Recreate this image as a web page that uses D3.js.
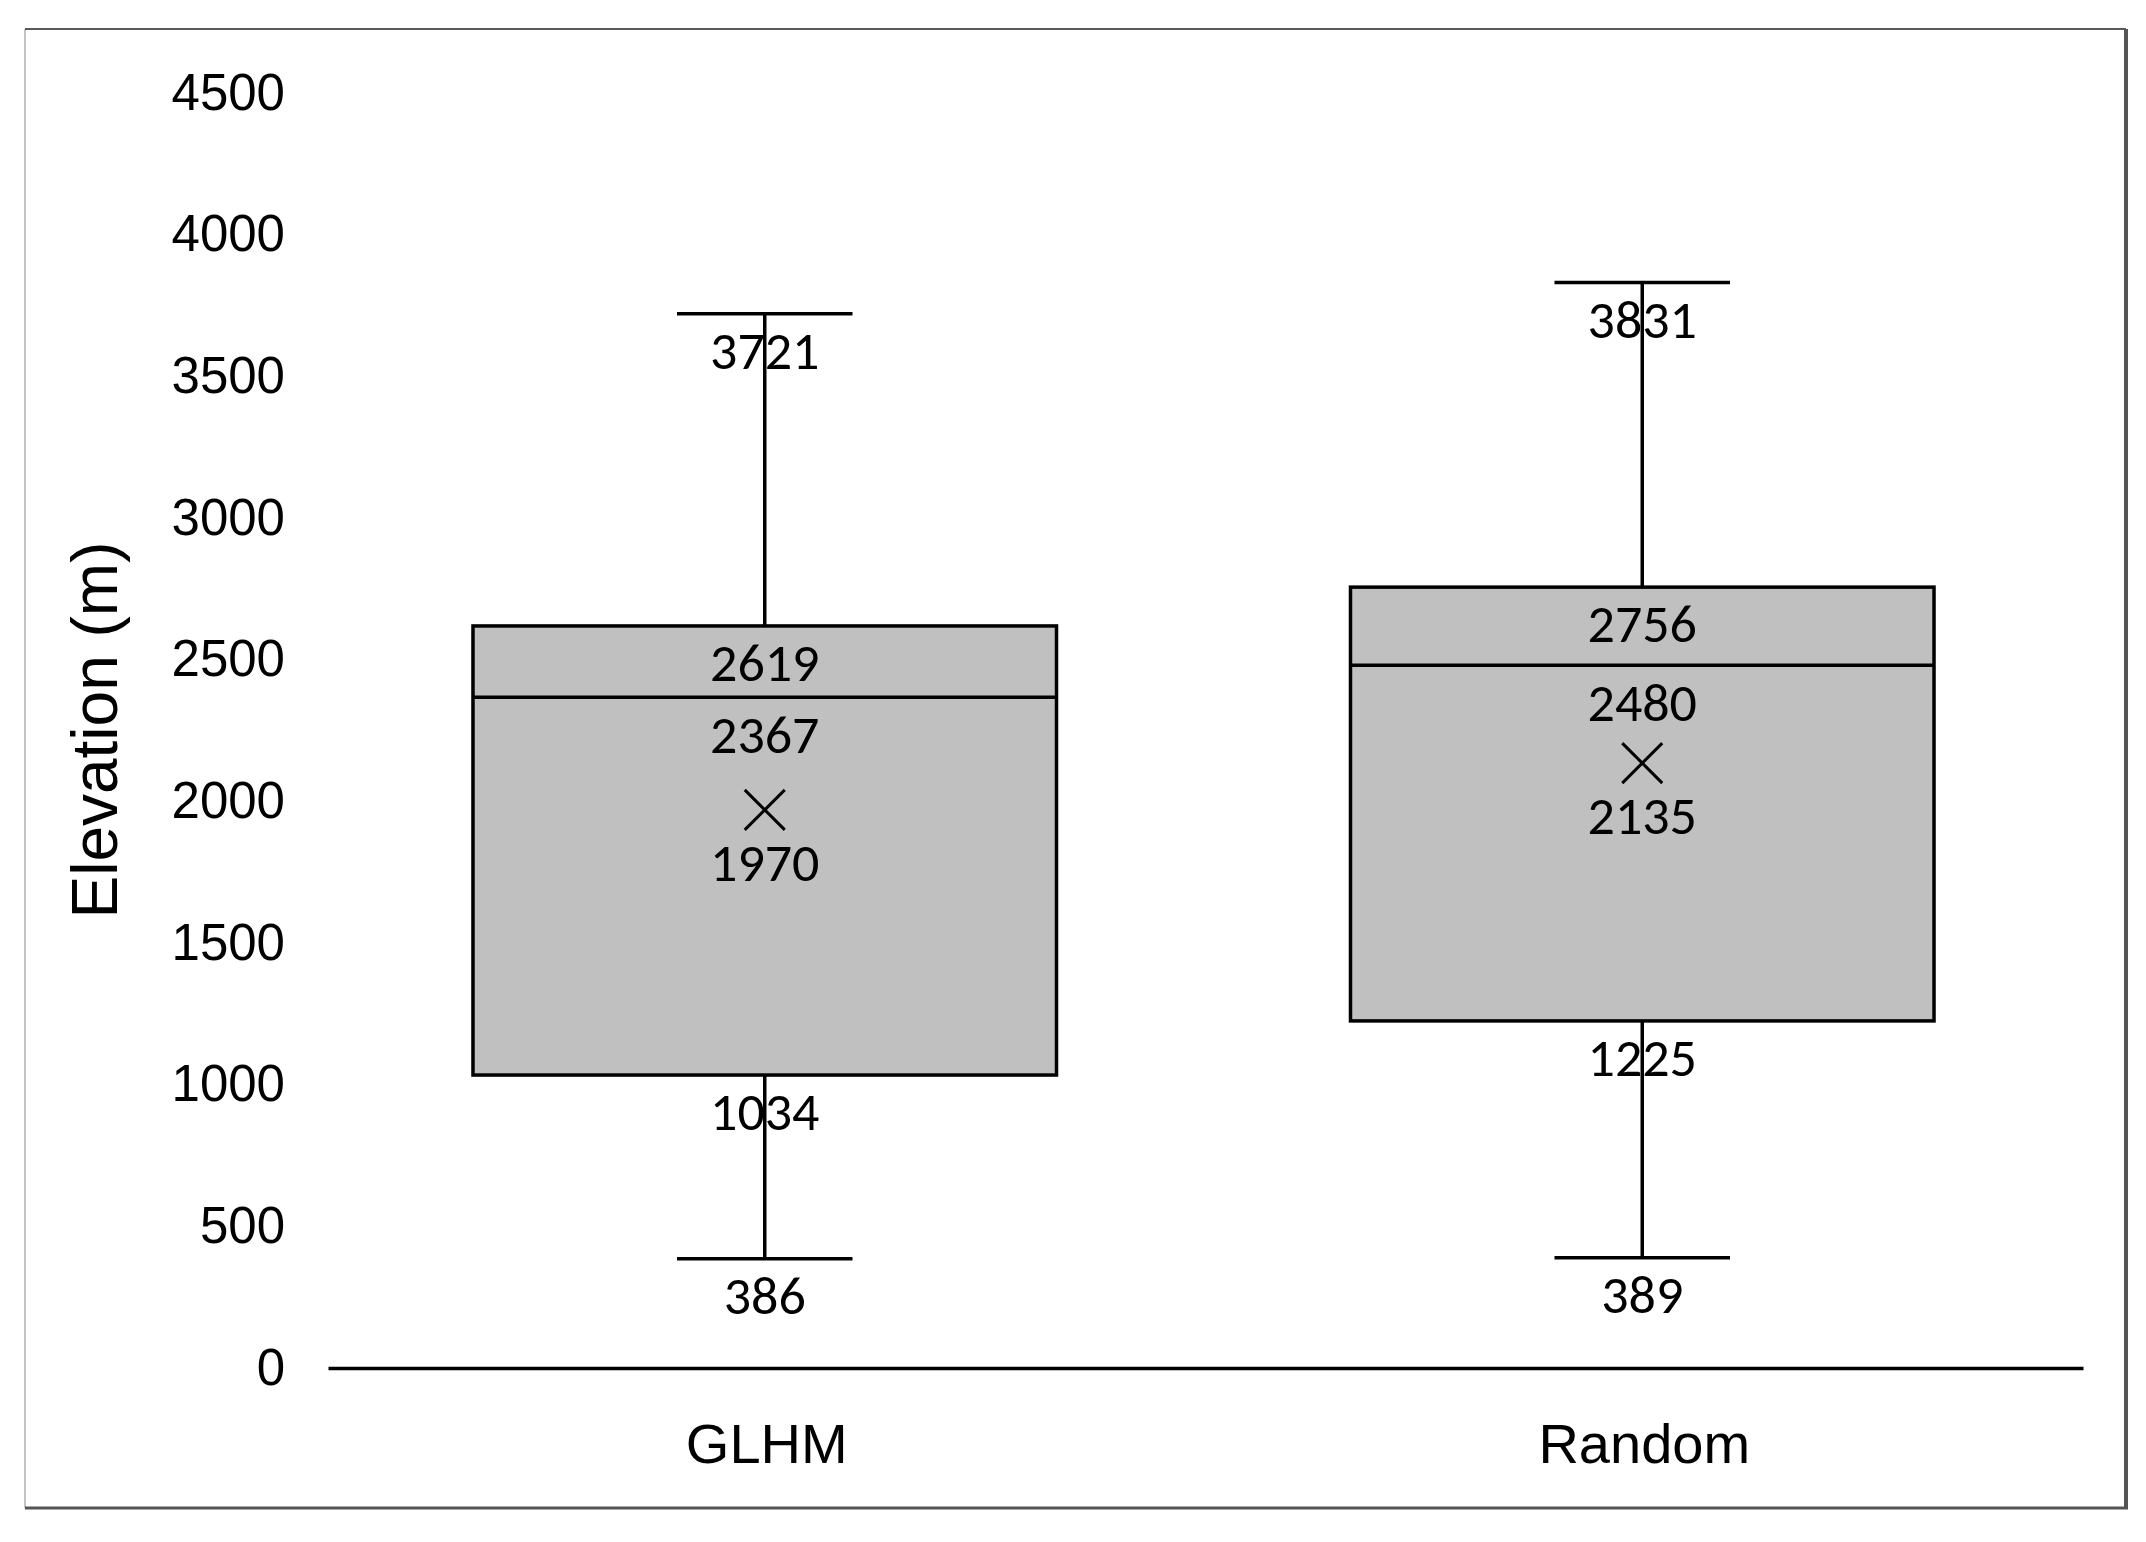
<!DOCTYPE html>
<html>
<head>
<meta charset="utf-8">
<script src="https://cdn.jsdelivr.net/npm/d3@7"></script>
<style>
  body { margin: 0; background: #fff; }
  svg { display: block; }
  .axis text { font-family: "Liberation Sans", Arial, sans-serif; fill: #000; }
  .val { font-family: Carlito, Lato, "Open Sans", sans-serif; font-size: 54px; fill: #000; }
</style>
</head>
<body>
<div id="chart"></div>
<script>
// data
const groups = ["GLHM", "Random"];
const minVals = [386, 389];
const q1Vals = [1034, 1225];
const medianVals = [2367, 2480];
const q3Vals = [2619, 2756];
const maxVals = [3721, 3831];
const meanVals = [1970, 2135];
const yTicks = [0, 500, 1000, 1500, 2000, 2500, 3000, 3500, 4000, 4500];

const W = 2146, H = 1542;

const svg = d3.select("#chart")
  .append("svg")
  .attr("width", W)
  .attr("height", H);

// frame round the whole figure
const frame = svg.append("g").attr("class", "frame");
frame.append("line").attr("x1", 25).attr("y1", 29).attr("x2", 25).attr("y2", 1508)
  .attr("stroke", "#c4c4c4").attr("stroke-width", 2);
frame.append("line").attr("x1", 25).attr("y1", 29).attr("x2", 2126).attr("y2", 29)
  .attr("stroke", "#5a5a5a").attr("stroke-width", 2);
frame.append("line").attr("x1", 2126).attr("y1", 29).attr("x2", 2126).attr("y2", 1509)
  .attr("stroke", "#555").attr("stroke-width", 4);
frame.append("line").attr("x1", 25).attr("y1", 1508).attr("x2", 2128).attr("y2", 1508)
  .attr("stroke", "#555").attr("stroke-width", 3);

const x = d3.scaleBand().domain(groups).range([328, 2083]).padding(0);
const y = d3.scaleLinear().domain([0, 4500]).range([1368, 93]);

const boxW = x.bandwidth() * 0.665;
const capW = x.bandwidth() * 0.2;
const lw = 3.5;

// y axis, labels only
const yAxis = svg.append("g")
  .attr("class", "axis y")
  .attr("transform", "translate(328,0)")
  .call(d3.axisLeft(y).tickValues(yTicks).tickSize(0).tickPadding(43).tickFormat(d3.format("d")));
yAxis.select(".domain").remove();
yAxis.selectAll("text").attr("font-size", 51);

// x axis, the domain line is the zero line
const xAxis = svg.append("g")
  .attr("class", "axis x")
  .attr("transform", "translate(0,1368)")
  .call(d3.axisBottom(x).tickSize(0).tickPadding(55));
xAxis.select(".domain").attr("stroke", "#000").attr("stroke-width", lw);
xAxis.selectAll("text").attr("font-size", 56);

svg.append("text")
  .attr("class", "axis")
  .attr("transform", "translate(117,730) rotate(-90)")
  .attr("text-anchor", "middle")
  .attr("font-family", "'Liberation Sans', Arial, sans-serif")
  .attr("font-size", 64)
  .text("Elevation (m)");

const rows = groups.map((g, i) => ({
  g, min: minVals[i], q1: q1Vals[i], med: medianVals[i],
  q3: q3Vals[i], max: maxVals[i], mean: meanVals[i]
}));

const box = svg.selectAll("g.box")
  .data(rows)
  .join("g")
  .attr("class", "box")
  .attr("transform", d => `translate(${x(d.g) + x.bandwidth() / 2 - 2},0)`);

// whisker line
box.append("line")
  .attr("x1", 0).attr("x2", 0)
  .attr("y1", d => y(d.min)).attr("y2", d => y(d.max))
  .attr("stroke", "#000").attr("stroke-width", lw);

// caps
box.selectAll("line.cap")
  .data(d => [d.min, d.max])
  .join("line")
  .attr("class", "cap")
  .attr("x1", -capW / 2).attr("x2", capW / 2)
  .attr("y1", v => y(v)).attr("y2", v => y(v))
  .attr("stroke", "#000").attr("stroke-width", lw);

box.append("rect")
  .attr("x", -boxW / 2)
  .attr("width", boxW)
  .attr("y", d => y(d.q3))
  .attr("height", d => y(d.q1) - y(d.q3))
  .attr("fill", "#c0c0c0")
  .attr("stroke", "#000")
  .attr("stroke-width", lw);

box.append("line")
  .attr("x1", -boxW / 2).attr("x2", boxW / 2)
  .attr("y1", d => y(d.med)).attr("y2", d => y(d.med))
  .attr("stroke", "#000").attr("stroke-width", lw);

// mean marker
const m = 20;
box.append("path")
  .attr("d", d => {
    const cy = y(d.mean);
    return `M${-m},${cy - m}L${m},${cy + m}M${-m},${cy + m}L${m},${cy - m}`;
  })
  .attr("stroke", "#000").attr("stroke-width", 3).attr("fill", "none");

// value labels, each one sits just under its mark
box.selectAll("text.val")
  .data(d => [
    { v: d.max, off: 55 }, { v: d.q3, off: 55 }, { v: d.med, off: 56 },
    { v: d.mean, off: 71 }, { v: d.q1, off: 55 }, { v: d.min, off: 55 }
  ])
  .join("text")
  .attr("class", "val")
  .attr("text-anchor", "middle")
  .attr("x", 0)
  .attr("y", t => y(t.v) + t.off)
  .text(t => t.v);
</script>
</body>
</html>
